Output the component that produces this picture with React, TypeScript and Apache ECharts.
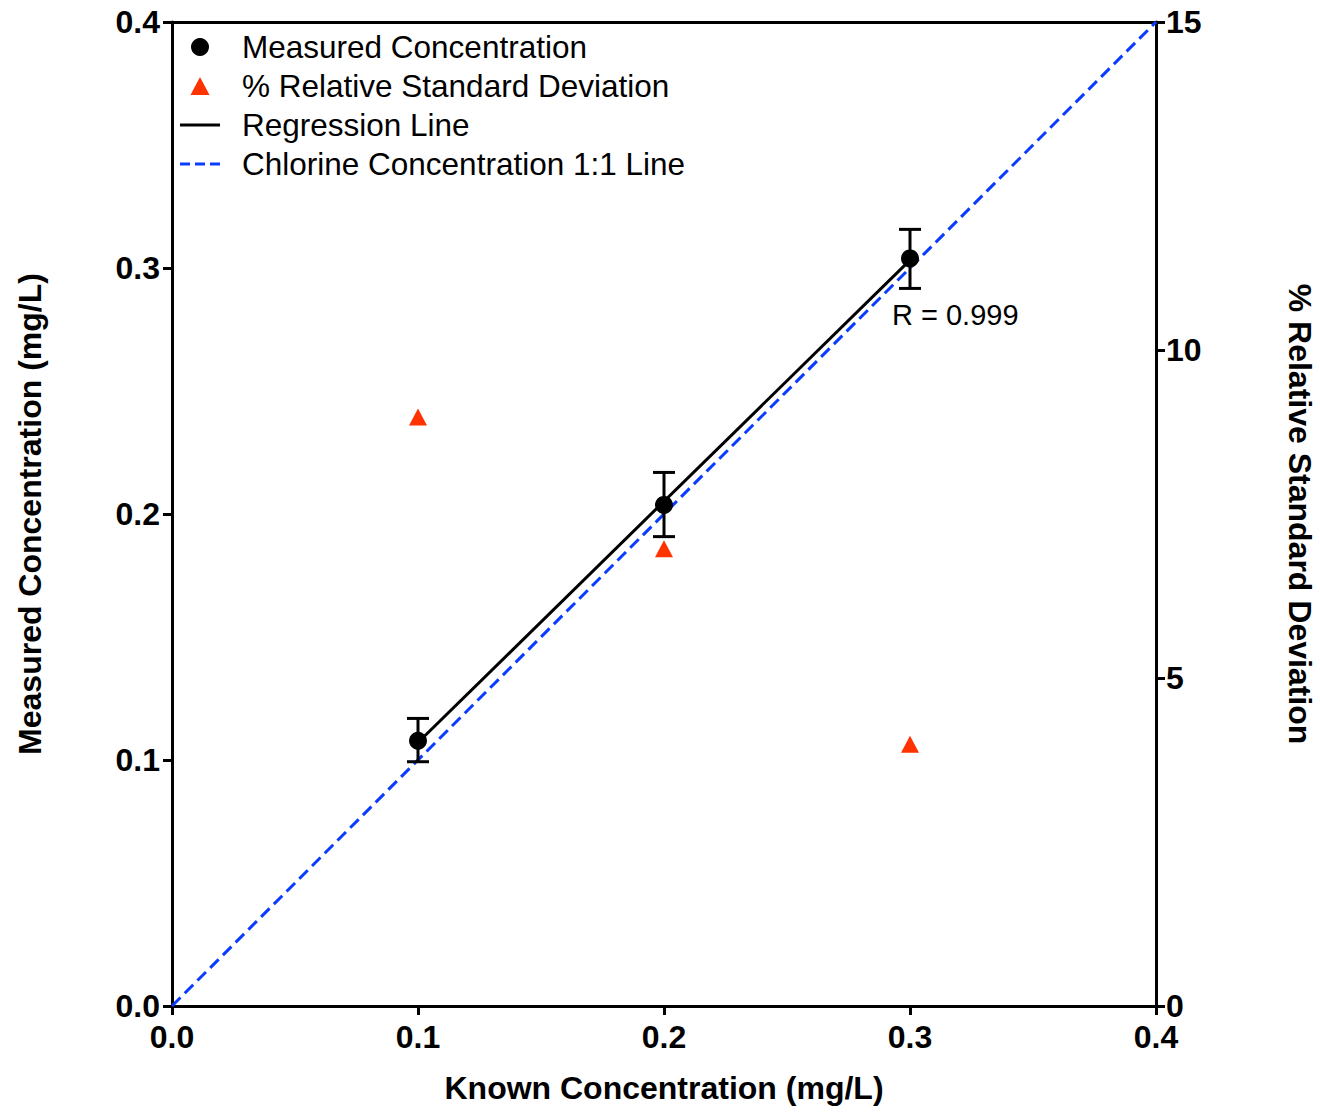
import React, { useEffect, useRef } from "react";
import * as echarts from "echarts";

const knownConc = [0.1, 0.2, 0.3];
const measuredConc = [0.1078, 0.2037, 0.3039];
const errLow = [0.0993, 0.1908, 0.2917];
const errHigh = [0.1169, 0.2169, 0.3157];
const rsdValues = [8.98, 6.97, 3.99];
const regressionLine = [
  [0.1, 0.1071],
  [0.3, 0.3032],
];
const oneToOneLine = [
  [0, 0],
  [0.4, 0.4],
];
const rLabel = "R = 0.999";

const FONT = "'Liberation Sans', Arial, sans-serif";
const BLUE = "#0a3cff";
const RED = "#ff3300";

export default function App() {
  const ref = useRef<HTMLDivElement>(null);
  useEffect(() => {
    if (!ref.current) return;
    const chart = echarts.init(ref.current, undefined, { renderer: "svg" });
    const axisLabelStyle = {
      color: "#000",
      fontSize: 32,
      fontWeight: "bold" as const,
      fontFamily: FONT,
    };
    const nameStyle = {
      color: "#000",
      fontSize: 32,
      fontWeight: "bold" as const,
      fontFamily: FONT,
    };
    const lineStyle = { color: "#000", width: 3 };
    chart.setOption({
      animation: false,
      backgroundColor: "#fff",
      textStyle: { fontFamily: FONT },
      grid: {
        left: 172,
        top: 22,
        right: 164,
        bottom: 106,
        containLabel: false,
        outerBoundsMode: "none",
      },
      legend: {
        orient: "vertical",
        left: 175,
        top: 26,
        itemWidth: 40,
        itemHeight: 18,
        itemGap: 7,
        selectedMode: false,
        textStyle: {
          color: "#000",
          fontSize: 31.5,
          fontFamily: FONT,
          lineHeight: 32,
          padding: [0, 0, 0, 17],
        },
        data: [
          { name: "Measured Concentration", icon: "circle" },
          { name: "% Relative Standard Deviation", icon: "path://M9 0 L18 17 L0 17 Z" },
          { name: "Regression Line", icon: "path://M0 0 H40 V3 H0 Z" },
          {
            name: "Chlorine Concentration 1:1 Line",
            icon: "path://M0 0 H10 V3 H0 Z M15 0 H25 V3 H15 Z M30 0 H40 V3 H30 Z",
          },
        ],
      },
      xAxis: [
        {
          type: "value",
          min: 0,
          max: 0.4,
          interval: 0.1,
          position: "bottom",
          name: "Known Concentration (mg/L)",
          nameLocation: "middle",
          nameGap: 66,
          nameTextStyle: nameStyle,
          axisLine: { show: true, onZero: false, lineStyle },
          axisTick: { show: true, length: 9, lineStyle },
          axisLabel: {
            ...axisLabelStyle,
            margin: 15,
            formatter: (v: number) => v.toFixed(1),
          },
          splitLine: { show: false },
        },
        {
          type: "value",
          min: 0,
          max: 0.4,
          position: "top",
          axisLine: { show: true, onZero: false, lineStyle },
          axisTick: { show: false },
          axisLabel: { show: false },
          splitLine: { show: false },
        },
      ],
      yAxis: [
        {
          type: "value",
          min: 0,
          max: 0.4,
          interval: 0.1,
          position: "left",
          name: "Measured Concentration (mg/L)",
          nameLocation: "middle",
          nameGap: 126,
          nameRotate: 90,
          nameTextStyle: nameStyle,
          axisLine: { show: true, onZero: false, lineStyle },
          axisTick: { show: true, length: 9, lineStyle },
          axisLabel: {
            ...axisLabelStyle,
            margin: 12,
            formatter: (v: number) => v.toFixed(1),
          },
          splitLine: { show: false },
        },
        {
          type: "value",
          min: 0,
          max: 15,
          interval: 5,
          position: "right",
          name: "% Relative Standard Deviation",
          nameLocation: "middle",
          nameGap: 128,
          nameRotate: -90,
          nameTextStyle: nameStyle,
          axisLine: { show: true, onZero: false, lineStyle },
          axisTick: { show: true, length: 9, lineStyle },
          axisLabel: { ...axisLabelStyle, margin: 10 },
          splitLine: { show: false },
        },
      ],
      series: [
        {
          name: "Chlorine Concentration 1:1 Line",
          type: "line",
          xAxisIndex: 0,
          yAxisIndex: 0,
          data: oneToOneLine,
          symbol: "none",
          showSymbol: false,
          lineStyle: { color: BLUE, width: 3, type: [12, 6] },
          itemStyle: { color: BLUE },
          z: 2,
        },
        {
          name: "Regression Line",
          type: "line",
          xAxisIndex: 0,
          yAxisIndex: 0,
          data: regressionLine,
          symbol: "none",
          showSymbol: false,
          lineStyle: { color: "#000", width: 3 },
          itemStyle: { color: "#000" },
          z: 3,
        },
        {
          name: "Error",
          type: "custom",
          xAxisIndex: 0,
          yAxisIndex: 0,
          data: knownConc.map((x, i) => [x, errLow[i], errHigh[i]]),
          renderItem: (params: any, api: any) => {
            const x = api.value(0);
            const lo = api.coord([x, api.value(1)]);
            const hi = api.coord([x, api.value(2)]);
            const hw = 11;
            const style = { stroke: "#000", lineWidth: 3 };
            return {
              type: "group",
              children: [
                { type: "line", shape: { x1: lo[0], y1: lo[1], x2: hi[0], y2: hi[1] }, style },
                { type: "line", shape: { x1: hi[0] - hw, y1: hi[1], x2: hi[0] + hw, y2: hi[1] }, style },
                { type: "line", shape: { x1: lo[0] - hw, y1: lo[1], x2: lo[0] + hw, y2: lo[1] }, style },
              ],
            };
          },
          z: 4,
        },
        {
          name: "Measured Concentration",
          type: "scatter",
          xAxisIndex: 0,
          yAxisIndex: 0,
          data: knownConc.map((x, i) => [x, measuredConc[i]]),
          symbol: "circle",
          symbolSize: 18,
          itemStyle: { color: "#000", opacity: 1 },
          z: 5,
        },
        {
          name: "% Relative Standard Deviation",
          type: "scatter",
          xAxisIndex: 0,
          yAxisIndex: 1,
          data: knownConc.map((x, i) => [x, rsdValues[i]]),
          symbol: "triangle",
          symbolSize: [18, 17],
          itemStyle: { color: RED, opacity: 1 },
          z: 5,
        },
      ],
      graphic: [
        {
          type: "text",
          left: 892,
          top: 300,
          style: {
            text: rLabel,
            fill: "#000",
            fontSize: 29,
            fontFamily: FONT,
          },
        },
      ],
    });
    return () => chart.dispose();
  }, []);
  return (
    <div
      ref={ref}
      style={{ position: "fixed", left: 0, top: 0, width: 1320, height: 1112 }}
    />
  );
}
